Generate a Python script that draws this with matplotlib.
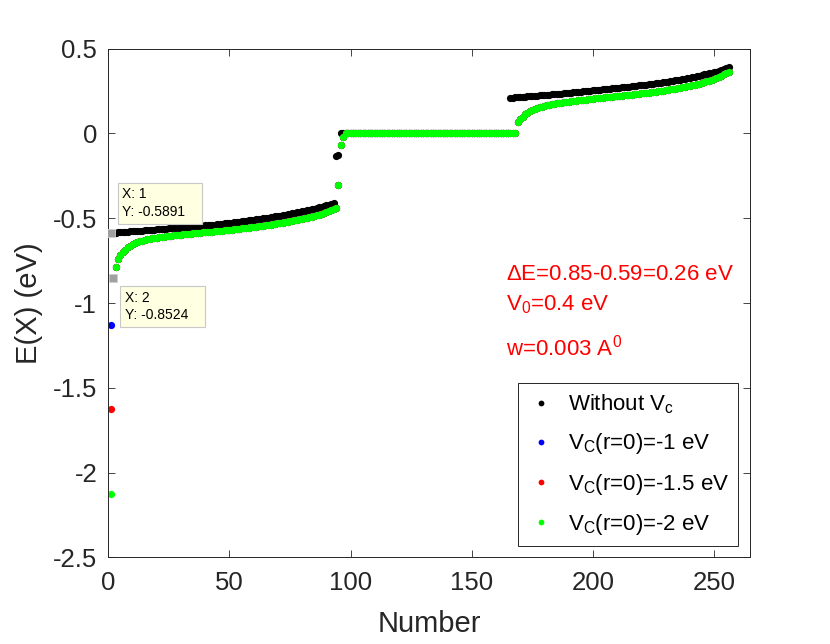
import numpy as np
import matplotlib
matplotlib.use('Agg')
import matplotlib.pyplot as plt

plt.rcParams['font.family'] = ['Liberation Sans', 'DejaVu Sans']
plt.rcParams['mathtext.fontset'] = 'custom'
plt.rcParams['mathtext.rm'] = 'Liberation Sans'
plt.rcParams['mathtext.default'] = 'regular'
plt.rcParams['axes.unicode_minus'] = False

# energies, index 1..256
black_low = [-0.589, -0.587, -0.585, -0.583, -0.582, -0.581, -0.580, -0.579, -0.578, -0.577,
             -0.576, -0.575, -0.574, -0.573, -0.572, -0.571, -0.570, -0.568, -0.567, -0.566,
             -0.565, -0.564, -0.562, -0.561, -0.560, -0.559, -0.557, -0.556, -0.555, -0.554,
             -0.553, -0.552, -0.551, -0.549, -0.548, -0.547, -0.546, -0.545, -0.543, -0.542,
             -0.541, -0.539, -0.538, -0.537, -0.535, -0.534, -0.532, -0.530, -0.529, -0.527,
             -0.526, -0.524, -0.523, -0.521, -0.519, -0.517, -0.515, -0.513, -0.511, -0.509,
             -0.507, -0.505, -0.503, -0.501, -0.499, -0.496, -0.494, -0.491, -0.489, -0.486,
             -0.484, -0.481, -0.478, -0.476, -0.473, -0.470, -0.467, -0.465, -0.462, -0.459,
             -0.456, -0.453, -0.450, -0.446, -0.443, -0.440, -0.436, -0.432, -0.428, -0.424,
             -0.420, -0.415, -0.410]
black_mid = [-0.135, -0.130]
black_high = [0.210, 0.212, 0.213, 0.214, 0.215, 0.216, 0.217, 0.218, 0.219, 0.220,
              0.222, 0.223, 0.224, 0.225, 0.226, 0.228, 0.229, 0.230, 0.231, 0.233,
              0.234, 0.235, 0.237, 0.238, 0.239, 0.241, 0.242, 0.243, 0.245, 0.246,
              0.248, 0.249, 0.251, 0.252, 0.254, 0.255, 0.257, 0.258, 0.260, 0.261,
              0.263, 0.264, 0.266, 0.267, 0.269, 0.270, 0.272, 0.273, 0.275, 0.276,
              0.278, 0.280, 0.281, 0.283, 0.285, 0.286, 0.288, 0.290, 0.292, 0.294,
              0.296, 0.298, 0.300, 0.302, 0.304, 0.306, 0.309, 0.311, 0.313, 0.316,
              0.318, 0.321, 0.323, 0.326, 0.329, 0.332, 0.335, 0.338, 0.341, 0.344,
              0.348, 0.351, 0.355, 0.358, 0.361, 0.365, 0.369, 0.373, 0.378, 0.384,
              0.392]
black_e = black_low + black_mid + [0.0] * 70 + black_high

green_low = [-0.740, -0.715, -0.700, -0.685, -0.672, -0.662, -0.654, -0.647, -0.641, -0.636,
             -0.632, -0.628, -0.625, -0.622, -0.619, -0.617, -0.614, -0.612, -0.610, -0.608,
             -0.606, -0.604, -0.603, -0.601, -0.600, -0.598, -0.597, -0.595, -0.594, -0.592,
             -0.591, -0.589, -0.588, -0.587, -0.585, -0.584, -0.583, -0.581, -0.580, -0.579,
             -0.577, -0.576, -0.574, -0.573, -0.571, -0.570, -0.568, -0.567, -0.565, -0.564,
             -0.562, -0.560, -0.559, -0.557, -0.555, -0.553, -0.551, -0.550, -0.548, -0.546,
             -0.544, -0.542, -0.540, -0.538, -0.536, -0.533, -0.531, -0.529, -0.526, -0.524,
             -0.521, -0.519, -0.516, -0.513, -0.510, -0.507, -0.504, -0.501, -0.498, -0.494,
             -0.491, -0.487, -0.483, -0.479, -0.475, -0.470, -0.465, -0.460, -0.454, -0.447,
             -0.440]
green_high = [0.065, 0.085, 0.100, 0.112, 0.122, 0.131, 0.139, 0.145, 0.150, 0.155,
              0.159, 0.163, 0.166, 0.169, 0.172, 0.174, 0.177, 0.179, 0.181, 0.183,
              0.185, 0.187, 0.189, 0.191, 0.193, 0.195, 0.197, 0.199, 0.200, 0.202,
              0.204, 0.205, 0.207, 0.208, 0.210, 0.211, 0.213, 0.214, 0.216, 0.217,
              0.219, 0.220, 0.222, 0.223, 0.225, 0.226, 0.228, 0.229, 0.231, 0.233,
              0.234, 0.236, 0.238, 0.240, 0.241, 0.243, 0.245, 0.247, 0.249, 0.251,
              0.253, 0.255, 0.257, 0.260, 0.262, 0.264, 0.267, 0.269, 0.272, 0.275,
              0.278, 0.281, 0.284, 0.287, 0.290, 0.294, 0.298, 0.302, 0.307, 0.312,
              0.317, 0.322, 0.328, 0.334, 0.341, 0.348, 0.356, 0.365]
green_e = [-2.127, -0.852, -0.790] + green_low + [-0.304, -0.068, -0.020] + [0.0] * 71 + green_high

# blue / red lie under the green points except for the lowest state
blue_e = [-1.132] + green_e[1:]
red_e = [-1.627] + green_e[1:]

labels = [r'Without V$_c$', r'V$_C$(r=0)=-1 eV', r'V$_C$(r=0)=-1.5 eV', r'V$_C$(r=0)=-2 eV']
colors = ['#000000', '#0000ff', '#ff0000', '#00ff00']

tips_x = [1, 2]
tips_y = [-0.5891, -0.8524]

fig = plt.figure(figsize=(8.3, 6.44), dpi=100)
ax = fig.add_axes([0.1305, 0.1346, 0.7735, 0.7898])

for yy, lab, col in zip([black_e, blue_e, red_e, green_e], labels, colors):
    xx = np.arange(1, len(yy) + 1)
    ax.plot(xx, yy, 'o', color=col, ms=5.2, mew=0, label=lab)

# data tips
ax.plot(tips_x, tips_y, 's', color='#a0a0a0', ms=6, mew=0.6, mec='#d0d0d0', zorder=5)
tip_pos = [(5.8, -0.318), (7.0, -0.93)]
for (tx, ty), xv, yv in zip(tip_pos, tips_x, tips_y):
    ax.text(tx, ty, 'X: %d\nY: %.4f   ' % (xv, yv), fontsize=10, va='top', ha='left',
            linespacing=1.3, zorder=6,
            bbox=dict(boxstyle='square,pad=0.35', fc='#ffffe1', ec='#c8c8c8', lw=0.8))

ax.text(164.1, -0.864, r'$\Delta$E=0.85-0.59=0.26 eV', color='red', fontsize=16, va='baseline')
ax.text(164.1, -1.041, r'V$_0$=0.4 eV', color='red', fontsize=16, va='baseline')
ax.text(164.1, -1.307, r'w=0.003 A$^0$', color='red', fontsize=16, va='baseline')

ax.set_xlim(0, 265)
ax.set_ylim(-2.5, 0.5)
ax.set_xticks([0, 50, 100, 150, 200, 250])
ax.set_yticks([-2.5, -2, -1.5, -1, -0.5, 0, 0.5])
ax.set_yticklabels(['-2.5', '-2', '-1.5', '-1', '-0.5', '0', '0.5'])
ax.tick_params(direction='in', top=True, right=True, length=5, width=0.6,
               labelsize=18.5, colors='#262626')
ax.tick_params(axis='x', pad=10)
ax.tick_params(axis='y', pad=8)
for sp in ax.spines.values():
    sp.set_color('#262626')
    sp.set_linewidth(0.7)

ax.set_xlabel('Number', fontsize=21, color='#262626')
ax.set_ylabel('E(X) (eV)', fontsize=21, color='#262626')
ax.xaxis.set_label_coords(0.5, -0.1036)
ax.yaxis.set_label_coords(-0.102, 0.5)

leg = ax.legend(loc='lower right', bbox_to_anchor=(0.981, 0.0222), fontsize=16,
                fancybox=False, framealpha=1, edgecolor='#262626', markerscale=0.8,
                handlelength=1.2, handletextpad=0.6, labelspacing=0.68, borderpad=0.42,
                borderaxespad=0)
leg.get_frame().set_linewidth(0.7)

fig.savefig('out.png', dpi=100)
